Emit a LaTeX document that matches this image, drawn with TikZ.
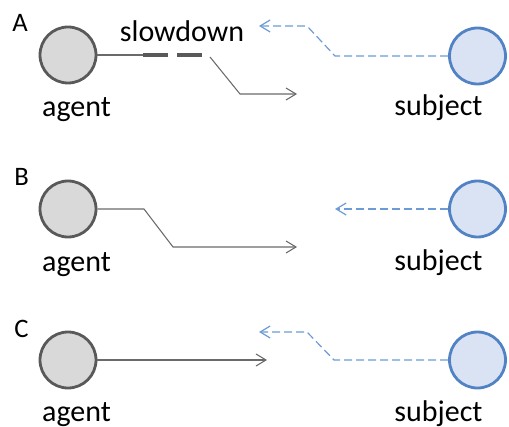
\documentclass[tikz,border=0pt]{standalone}
\usepackage{fontspec}
\setmainfont{Carlito}
\usetikzlibrary{arrows.meta}
\definecolor{agfill}{HTML}{D9D9D9}
\definecolor{agline}{HTML}{595959}
\definecolor{sbfill}{HTML}{DAE3F3}
\definecolor{sbline}{HTML}{5182C4}
\definecolor{conn}{HTML}{6A6A6A}
\definecolor{bconn}{HTML}{6C9BD6}
\begin{document}
\begin{tikzpicture}[x=0.75pt,y=-0.75pt,
  agentnode/.style={circle,draw=agline,fill=agfill,line width=2.1pt,minimum size=42pt,inner sep=0pt},
  subjnode/.style={circle,draw=sbline,fill=sbfill,line width=2.1pt,minimum size=42pt,inner sep=0pt},
  lbl/.style={font=\fontsize{22.5}{27}\selectfont,anchor=base,inner sep=0pt},
  panel/.style={font=\fontsize{20}{24}\selectfont,anchor=base west,inner sep=0pt},
  grayline/.style={draw=conn,line width=0.8pt},
  grayarrow/.style={grayline,-{Straight Barb[length=7.5pt,width=9pt,line width=0.8pt]}},
  bluearrow/.style={draw=bconn,line width=0.9pt,dash pattern=on 6pt off 3pt,-{Straight Barb[length=7.5pt,width=9pt,line width=0.9pt]}},
  slowdash/.style={draw=agline,line width=3pt,dash pattern=on 18.75pt off 6.75pt}]
\useasboundingbox (0,0) rectangle (509,427);

% Panel A
\node[panel] (la) at (12,32) {A};
\node[agentnode] (ag1) at (68,55) {};
\node[subjnode] (sb1) at (477.5,56) {};
\node[lbl] (ta1) at (76.5,117) {agent};
\node[lbl] (ts1) at (438.5,116) {subject};
\node[lbl] (slow) at (182,42) {slowdown};
\coordinate (a1) at (143,55);
\coordinate (a2) at (202,55);
\coordinate (a3) at (210,57);
\coordinate (a4) at (240,94);
\coordinate (a5) at (297,94);
\draw[grayline] (ag1.east) -- (a1);
\draw[slowdash] (a1) -- (a2);
\draw[grayarrow] (a3) -- (a4) -- (a5);
\coordinate (b1) at (335,56);
\coordinate (b2) at (307,26);
\coordinate (b3) at (259,26);
\draw[bluearrow] (sb1.west) -- (b1) -- (b2) -- (b3);

% Panel B
\node[panel] (lb) at (14,186) {B};
\node[agentnode] (ag2) at (68,209) {};
\node[subjnode] (sb2) at (477.5,209) {};
\node[lbl] (ta2) at (76.5,271) {agent};
\node[lbl] (ts2) at (438.5,270) {subject};
\coordinate (c1) at (144,209);
\coordinate (c2) at (173,247);
\coordinate (c3) at (297,247);
\draw[grayarrow] (ag2.east) -- (c1) -- (c2) -- (c3);
\coordinate (d1) at (335,209);
\draw[bluearrow] (sb2.west) -- (d1);

% Panel C
\node[panel] (lc) at (14,337) {C};
\node[agentnode] (ag3) at (68,360) {};
\node[subjnode] (sb3) at (477.5,360) {};
\node[lbl] (ta3) at (76.5,421) {agent};
\node[lbl] (ts3) at (438.5,421) {subject};
\coordinate (e1) at (267,360);
\draw[grayarrow] (ag3.east) -- (e1);
\coordinate (f1) at (334,360);
\coordinate (f2) at (307,332);
\coordinate (f3) at (259,332);
\draw[bluearrow] (sb3.west) -- (f1) -- (f2) -- (f3);
\end{tikzpicture}
\end{document}
